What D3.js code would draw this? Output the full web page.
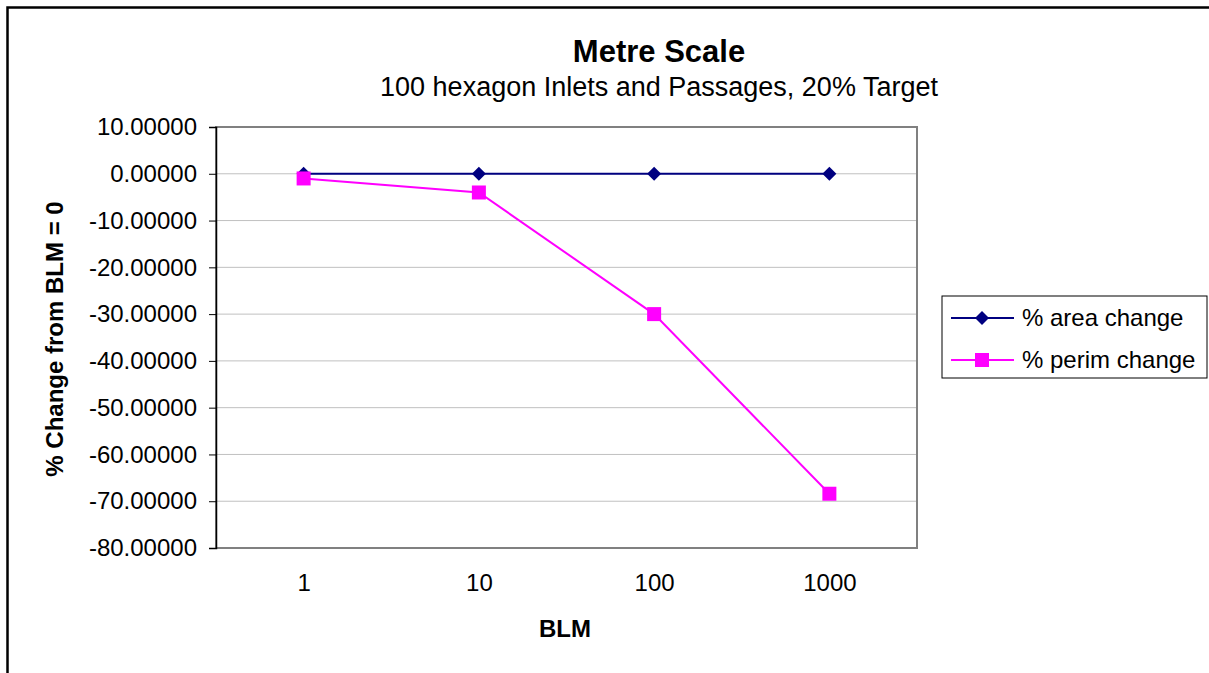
<!DOCTYPE html>
<html>
<head>
<meta charset="utf-8">
<script src="https://cdn.jsdelivr.net/npm/d3@7"></script>
<style>
  html, body { margin: 0; padding: 0; background: #fff; }
  svg { display: block; font-family: "Liberation Sans", Arial, sans-serif; }
</style>
</head>
<body>
<svg id="chart" width="1209" height="673"></svg>
<script>
// BLM levels along the category axis
const blmLevels = ["1", "10", "100", "1000"];
// % change relative to BLM = 0
const areaChange = [0, 0, 0, 0];
const perimChange = [-1.0, -4.0, -30.0, -68.4];
// value axis ticks
const yTicks = [10, 0, -10, -20, -30, -40, -50, -60, -70, -80];

const seriesList = [
  { name: "% area change", values: areaChange, color: "#000080", marker: "diamond" },
  { name: "% perim change", values: perimChange, color: "#ff00ff", marker: "square" }
];

const FONT = "'Liberation Sans', Arial, sans-serif";
const svg = d3.select("#chart");
const plot = { left: 216, top: 127, right: 917, bottom: 548 };

// outer frame
svg.append("rect")
  .attr("x", 7.5).attr("y", 7.5).attr("width", 1220).attr("height", 700)
  .attr("fill", "none").attr("stroke", "#000").attr("stroke-width", 2.5);

const x = d3.scalePoint().domain(blmLevels).range([plot.left, plot.right]).padding(0.5);
const y = d3.scaleLinear().domain([-80, 10]).range([plot.bottom, plot.top]);

// gridlines
svg.append("g").selectAll("line").data(yTicks.filter(t => t !== 10 && t !== -80)).join("line")
  .attr("x1", plot.left).attr("x2", plot.right)
  .attr("y1", d => y(d)).attr("y2", d => y(d))
  .attr("stroke", "#c0c0c0").attr("stroke-width", 1);

// plot area border
svg.append("rect")
  .attr("x", plot.left).attr("y", plot.top)
  .attr("width", plot.right - plot.left).attr("height", plot.bottom - plot.top)
  .attr("fill", "none").attr("stroke", "#808080").attr("stroke-width", 2);

// y axis
const yAxis = d3.axisLeft(y).tickValues(yTicks).tickSize(7).tickPadding(12)
  .tickFormat(d => d3.format(".5f")(d).replace("−", "-"));
const gy = svg.append("g").attr("transform", `translate(${plot.left},0)`).call(yAxis);
gy.attr("font-size", 24).attr("font-family", FONT);
gy.select(".domain").attr("stroke", "#000").attr("stroke-width", 1.5);
gy.selectAll(".tick line").attr("stroke", "#000");
gy.selectAll(".tick text").attr("fill", "#000");

// x axis labels
const xAxis = d3.axisBottom(x).tickSize(0).tickPadding(26);
const gx = svg.append("g").attr("transform", `translate(0,${plot.bottom})`).call(xAxis);
gx.attr("font-size", 24).attr("font-family", FONT);
gx.select(".domain").remove();
gx.selectAll(".tick text").attr("fill", "#000");

// series lines and markers
const line = d3.line().x((d, i) => x(blmLevels[i])).y(d => y(d));
function drawMarker(g, type, cx, cy, color) {
  if (type === "diamond") {
    g.append("path")
      .attr("d", `M${cx},${cy - 7}L${cx + 7},${cy}L${cx},${cy + 7}L${cx - 7},${cy}Z`)
      .attr("fill", color);
  } else {
    g.append("rect").attr("x", cx - 7).attr("y", cy - 7)
      .attr("width", 14).attr("height", 14).attr("fill", color);
  }
}
seriesList.forEach(s => {
  const g = svg.append("g");
  g.append("path").datum(s.values).attr("d", line)
    .attr("fill", "none").attr("stroke", s.color).attr("stroke-width", 2);
  s.values.forEach((v, i) => drawMarker(g, s.marker, x(blmLevels[i]), y(v), s.color));
});

// titles
svg.append("text").attr("x", 659).attr("y", 62).attr("text-anchor", "middle")
  .attr("font-size", 31).attr("font-weight", "bold").text("Metre Scale");
svg.append("text").attr("x", 659).attr("y", 96).attr("text-anchor", "middle")
  .attr("font-size", 27).text("100 hexagon Inlets and Passages, 20% Target");
svg.append("text").attr("x", 565).attr("y", 637).attr("text-anchor", "middle")
  .attr("font-size", 24).attr("font-weight", "bold").text("BLM");
svg.append("text").attr("transform", "translate(63,339) rotate(-90)").attr("text-anchor", "middle")
  .attr("font-size", 24).attr("font-weight", "bold").text("% Change from BLM = 0");

// legend
const lg = svg.append("g");
lg.append("rect").attr("x", 942).attr("y", 296).attr("width", 265).attr("height", 82)
  .attr("fill", "#fff").attr("stroke", "#000").attr("stroke-width", 1);
seriesList.forEach((s, i) => {
  const ly = 318 + i * 42;
  lg.append("line").attr("x1", 951).attr("x2", 1014).attr("y1", ly).attr("y2", ly)
    .attr("stroke", s.color).attr("stroke-width", 2);
  drawMarker(lg, s.marker, 982, ly, s.color);
  lg.append("text").attr("x", 1022).attr("y", ly + 8).attr("font-size", 24).text(s.name);
});
</script>
</body>
</html>
